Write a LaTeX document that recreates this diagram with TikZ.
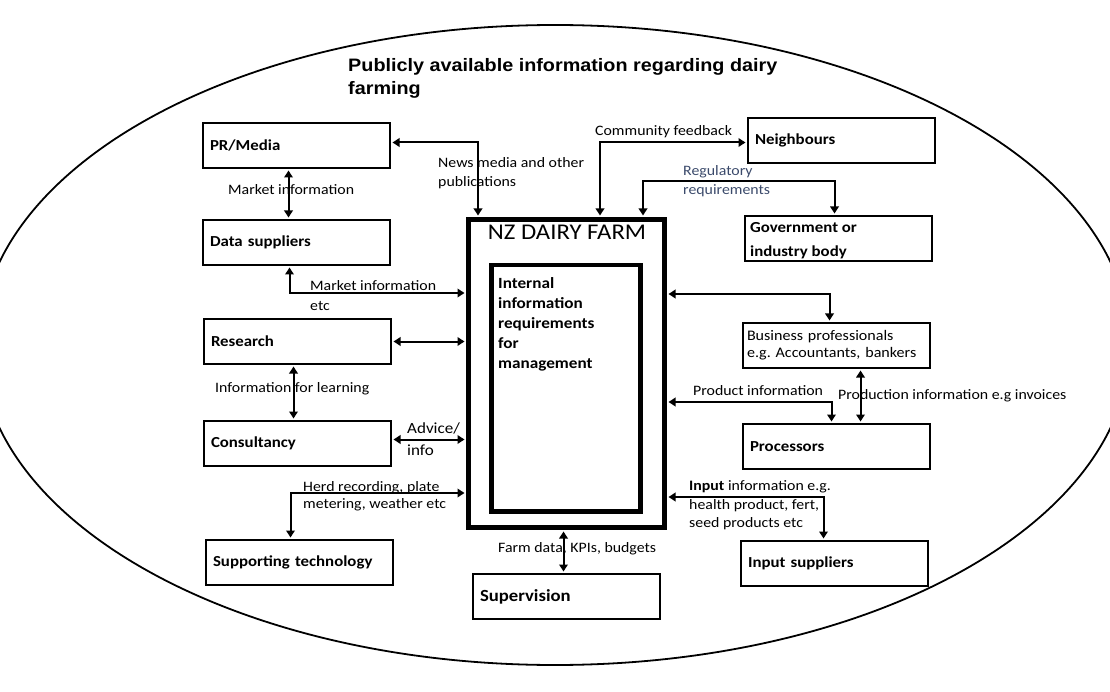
\documentclass[tikz,border=0pt]{standalone}
\usepackage{fontspec}
\setmainfont{Carlito}[FakeStretch=1.1]
\newfontfamily\titlefont{Liberation Sans}[FakeStretch=1.1]
\usetikzlibrary{arrows.meta}
\definecolor{slate}{HTML}{3B4A6B}
\tikzset{
  bx/.style={draw, line width=2pt, anchor=north west, inner xsep=7pt, inner ysep=0pt,
    minimum width=187pt, text width=173pt, minimum height=45pt, align=left,
    font=\fontsize{15.3}{18}\selectfont\bfseries},
  bxr/.style={bx, inner xsep=4pt, text width=179pt, font=\fontsize{14.6}{17}\selectfont},
  lbl/.style={anchor=base west, inner sep=0pt, font=\fontsize{14.4}{17}\selectfont},
  conn/.style={line width=2pt, shorten >=1.5pt, shorten <=1.5pt,
    {Triangle[length=7pt,width=8.5pt]}-{Triangle[length=7pt,width=8.5pt]}},
}
\begin{document}
\begin{tikzpicture}[x=1pt,y=-1pt]
\useasboundingbox (0,0) rectangle (1110,692);
\begin{scope}
  \clip (0,0) rectangle (1110,692);
  \draw[line width=1.8pt] (555,345) ellipse [x radius=575pt, y radius=320pt];
\end{scope}

% title
\node[anchor=base west, inner sep=0pt, font=\titlefont\fontsize{18}{22}\selectfont\bfseries] (t1) at (348,72) {Publicly available information regarding dairy};
\node[anchor=base west, inner sep=0pt, font=\titlefont\fontsize{18}{22}\selectfont\bfseries] (t2) at (348,95) {farming};

% central farm
\node[draw, line width=5pt, anchor=north west, minimum width=196pt, minimum height=308pt, inner sep=0pt] (nz) at (466,217) {};
\node[anchor=base, inner sep=0pt, font=\fontsize{22.5}{26}\selectfont] (nzt) at (567,240) {NZ DAIRY FARM};
\node[draw, line width=4.5pt, anchor=north west, minimum width=149pt, minimum height=246pt, inner sep=0pt] (inn) at (489,263) {};
\node[anchor=north west, inner sep=0pt, align=left, font=\fontsize{15.6}{20}\selectfont\bfseries] (intext) at (498,277) {Internal\\information\\requirements\\for\\management};

% left boxes
\node[bx] (pr) at (202,122) {PR/Media};
\node[bx] (ds) at (202,219) {Data suppliers};
\node[bx] (rs) at (203,318) {Research};
\node[bx] (cs) at (203,420) {Consultancy};
\node[bx] (st) at (205,539) {Supporting technology};
\node[bx, font=\fontsize{17}{20}\selectfont\bfseries] (sv) at (472,573) {Supervision};

% right boxes
\node[bx] (nb) at (747,117) {Neighbours};
\node[bx] (gv) at (744,215) {};
\node[anchor=base west, inner sep=0pt, align=left, font=\fontsize{15.3}{24}\selectfont\bfseries] (gvt) at (750,257) {Government or\\industry body};
\node[bxr] (bp) at (742,322) {Business professionals\\e.g.\ Accountants, bankers};
\node[bx] (pc) at (742,423) {Processors};
\node[bx] (is) at (740,540) {Input suppliers};

% connectors
\draw[conn] ([yshift=3pt]pr.east) -| ([xshift=12pt]nz.north west);
\draw[conn] ([xshift=-8pt]pr.south) -- ([xshift=-8pt]ds.north);
\draw[conn] ([xshift=-7pt]ds.south) |- ([yshift=-76pt]nz.north west);
\draw[conn] (rs.east) -- (rs.east -| nz.west);
\draw[conn] ([xshift=-4pt]rs.south) -- ([xshift=-4pt]cs.north);
\draw[conn] ([yshift=4pt]cs.east) -- ([yshift=4pt]cs.east -| nz.west);
\draw[conn] ([yshift=-276pt]nz.north west) -| ([xshift=-9pt]st.north);
\draw[conn] ([xshift=-3pt]sv.north) -- ([xshift=-3pt]sv.north |- nz.south);
\draw[conn] ([yshift=-2pt]nb.west) -| ([xshift=134pt]nz.north west);
\draw[conn] ([xshift=177pt]nz.north west) |- ([xshift=-4pt,yshift=34pt]gv.north) -- ([xshift=-4pt]gv.north);
\draw[conn] ([yshift=-77pt]nz.north east) -| ([xshift=-7pt]bp.north);
\draw[conn] ([yshift=-185pt]nz.north east) -| ([xshift=-5pt]pc.north);
\draw[conn] ([xshift=24pt]bp.south) -- ([xshift=24pt]pc.north);
\draw[conn] ([yshift=-280pt]nz.north east) -| ([xshift=-11pt]is.north);

% labels
\node[lbl] (la1) at (438,168) {News media and other};
\node[lbl] (la2) at (438,187) {publications};
\node[lbl] (lb) at (228,195) {Market information};
\node[lbl] (lc1) at (310,291) {Market information};
\node[lbl] (lc2) at (310,310) {etc};
\node[lbl] (ld) at (215,392) {Information for learning};
\node[lbl, font=\fontsize{15.5}{18}\selectfont] (le1) at (407,433) {Advice/};
\node[lbl, font=\fontsize{15.5}{18}\selectfont] (le2) at (407,455) {info};
\node[lbl] (lf1) at (303,491) {Herd recording, plate};
\node[lbl] (lf2) at (303,508) {metering, weather etc};
\node[lbl] (lg) at (498,552) {Farm data, KPIs, budgets};
\node[lbl] (lh) at (595,136) {Community feedback};
\node[lbl, text=slate] (li1) at (683,176) {Regulatory};
\node[lbl, text=slate] (li2) at (683,195) {requirements};
\node[lbl] (lj) at (693,395) {Product information};
\node[lbl] (lk) at (838,399) {Production information e.g invoices};
\node[lbl] (ll1) at (689,490) {\textbf{Input} information e.g.};
\node[lbl] (ll2) at (689,509) {health product, fert,};
\node[lbl] (ll3) at (689,527) {seed products etc};
\end{tikzpicture}
\end{document}
